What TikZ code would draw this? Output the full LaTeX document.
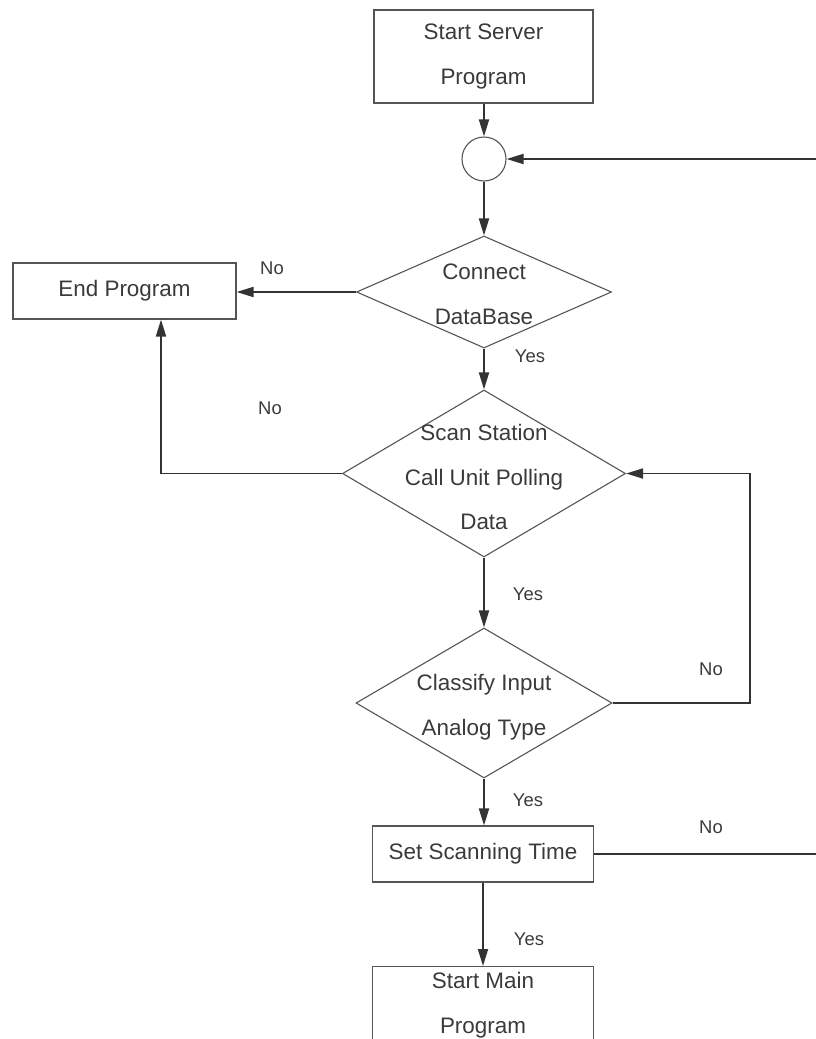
\documentclass[tikz,border=0pt]{standalone}
\usepackage{fontspec}
\setmainfont{Liberation Sans}
\usetikzlibrary{arrows.meta,shapes.geometric}
\definecolor{linec}{HTML}{333333}
\definecolor{boxc}{HTML}{555555}
\definecolor{textc}{HTML}{3A3A3A}
\begin{document}
\begin{tikzpicture}[x=1bp,y=-1bp,
  flow/.style={draw=linec, line width=1.8bp, -{Triangle[length=17bp,width=10bp]}},
  plain/.style={draw=linec, line width=1.8bp},
  procbox/.style={draw=boxc, line width=1.1bp, rectangle, inner sep=0pt},
  decision/.style={draw=boxc, line width=1.1bp, diamond, inner sep=0pt},
  joint/.style={draw=boxc, line width=1.1bp, circle, inner sep=0pt, minimum size=44bp},
  txt/.style={font=\fontsize{22.5}{45}\selectfont, text=textc, align=center, inner sep=0pt},
  lbl/.style={font=\fontsize{18.5}{20}\selectfont, text=textc, inner sep=0pt}
]
\useasboundingbox (0,0) rectangle (816,1039);

% process boxes and decisions
\node[procbox, minimum width=219bp, minimum height=93bp] (start) at (483.5,56.5) {};
\node[txt] at (start.center) {Start Server\\Program};

\node[joint] (join) at (484,159) {};

\node[decision, minimum width=255bp, minimum height=112bp] (conn) at (484,292) {};
\node[txt] at (484,294) {Connect\\DataBase};

\node[procbox, minimum width=223bp, minimum height=56bp] (endp) at (124.5,291) {};
\node[txt] at (endp.center) {End Program};

\node[decision, minimum width=283bp, minimum height=167bp] (scan) at (484,473.5) {};
\node[txt] at (484,477) {Scan Station\\Call Unit Polling\\Data};

\node[decision, minimum width=256bp, minimum height=150bp] (clas) at (484,703) {};
\node[txt] at (484,707) {Classify Input\\Analog Type};

\node[procbox, minimum width=221bp, minimum height=56bp] (sett) at (483,854) {};
\node[txt] at (sett.center) {Set Scanning Time};

\node[procbox, minimum width=221bp, minimum height=100bp, anchor=north] (mainp) at (483,966) {};
\node[txt] at (483,1005) {Start Main\\Program};

% free ends and bends
\coordinate (rtop) at (816,159);
\coordinate (rset) at (816,854);
\coordinate (bendA) at (161,473.5);
\coordinate (bendB) at (750,703);
\coordinate (bendC) at (750,473.5);

% connectors
\draw[flow] (start.south -| join) -- (join.north);
\draw[flow] (rtop) -- (join.east);
\draw[flow] (join.south) -- (conn.north);
\draw[flow] (conn.west) -- (conn.west -| endp.east);
\draw[flow] (conn.south) -- (scan.north);
\draw[flow] (scan.west) -- (bendA) -- (endp.south -| bendA);
\draw[flow] (scan.south) -- (clas.north);
\draw[flow] (clas.east) -- (bendB) -- (bendC) -- (scan.east);
\draw[flow] (clas.south) -- (clas.south |- sett.north);
\draw[plain] (sett.east) -- (rset);
\draw[flow] (sett.south) -- (mainp.north);

% branch labels
\node[lbl] at (272,268) {No};
\node[lbl] at (530,356) {Yes};
\node[lbl] at (270,408) {No};
\node[lbl] at (528,594) {Yes};
\node[lbl] at (711,669) {No};
\node[lbl] at (528,800) {Yes};
\node[lbl] at (711,827) {No};
\node[lbl] at (529,939) {Yes};
\end{tikzpicture}
\end{document}
